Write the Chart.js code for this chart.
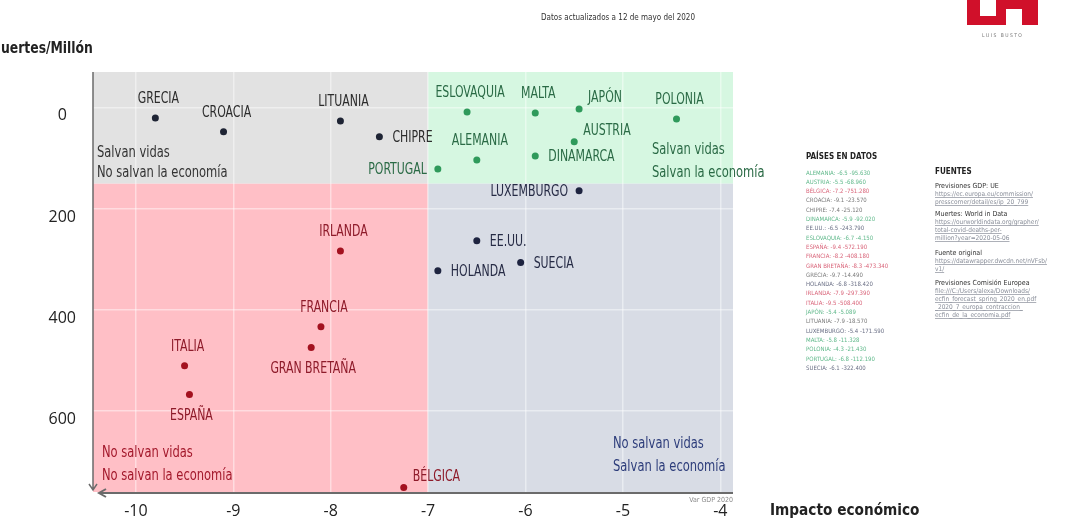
<!DOCTYPE html>
<html>
<head>
<meta charset="utf-8">
<script src="https://cdn.jsdelivr.net/npm/chart.js@4/dist/chart.umd.min.js"></script>
<style>
html, body { margin: 0; padding: 0; background: #fff; }
#wrap { width: 1072px; height: 528px; }
</style>
</head>
<body>
<div id="wrap"><canvas id="mycanvas" width="1072" height="528"></canvas></div>
<script>
// datos
var paises = ['GRECIA', 'CROACIA', 'LITUANIA', 'CHIPRE', 'PORTUGAL', 'ESLOVAQUIA', 'MALTA', 'JAPÓN',
    'POLONIA', 'AUSTRIA', 'ALEMANIA', 'DINAMARCA', 'LUXEMBURGO', 'EE.UU.', 'HOLANDA', 'SUECIA',
    'IRLANDA', 'FRANCIA', 'GRAN BRETAÑA', 'ITALIA', 'ESPAÑA', 'BÉLGICA'];
var pib = [-9.8, -9.1, -7.9, -7.5, -6.9, -6.6, -5.9, -5.45,
    -4.45, -5.5, -6.5, -5.9, -5.45, -6.5, -6.9, -6.05,
    -7.9, -8.1, -8.2, -9.5, -9.45, -7.25];
var muertes = [20, 47, 26, 57, 121, 8, 10, 2,
    22, 67, 103, 95, 164, 263, 322, 306,
    283, 433, 474, 510, 567, 751];
var grupo = ['gris', 'gris', 'gris', 'gris', 'verde', 'verde', 'verde', 'verde',
    'verde', 'verde', 'verde', 'verde', 'azul', 'azul', 'azul', 'azul',
    'rojo', 'rojo', 'rojo', 'rojo', 'rojo', 'rojo'];
var xTicks = [-10, -9, -8, -7, -6, -5, -4];
var yTicks = [0, 200, 400, 600];

// donde va cada etiqueta respecto al punto
var posicion = ['arriba', 'arriba', 'arriba', 'derecha', 'izquierda', 'arriba', 'arriba', 'arribaDer',
    'arriba', 'arribaDer', 'arriba', 'derecha', 'izquierda', 'derecha', 'derecha', 'derecha',
    'arriba', 'arriba', 'abajo', 'arriba', 'abajo', 'arribaDer'];

// tabla "PAISES EN DATOS"
var tablaPaises = ['ALEMANIA: -6.5 -95.630', 'AUSTRIA: -5.5 -68.960', 'BÉLGICA: -7.2 -751.280',
    'CROACIA: -9.1 -23.570', 'CHIPRE: -7.4 -25.120', 'DINAMARCA: -5.9 -92.020',
    'EE.UU.: -6.5 -243.790', 'ESLOVAQUIA: -6.7 -4.150', 'ESPAÑA: -9.4 -572.190',
    'FRANCIA: -8.2 -408.180', 'GRAN BRETAÑA: -8.3 -473.340', 'GRECIA: -9.7 -14.490',
    'HOLANDA: -6.8 -318.420', 'IRLANDA: -7.9 -297.390', 'ITALIA: -9.5 -508.400',
    'JAPÓN: -5.4 -5.089', 'LITUANIA: -7.9 -18.570', 'LUXEMBURGO: -5.4 -171.590',
    'MALTA: -5.8 -11.328', 'POLONIA: -4.3 -21.430', 'PORTUGAL: -6.8 -112.190',
    'SUECIA: -6.1 -322.400'];
var tablaGrupo = ['verde', 'verde', 'rojo', 'gris', 'gris', 'verde', 'azul', 'verde', 'rojo', 'rojo',
    'rojo', 'gris', 'azul', 'rojo', 'rojo', 'verde', 'gris', 'azul', 'verde', 'verde', 'verde', 'azul'];

var fuentes = [
    ['t', 'FUENTES'],
    ['s', 'Previsiones GDP: UE'],
    ['l', 'https://ec.europa.eu/commission/'],
    ['l', 'presscorner/detail/es/ip_20_799'],
    ['s', 'Muertes: World in Data'],
    ['l', 'https://ourworldindata.org/grapher/'],
    ['l', 'total-covid-deaths-per-'],
    ['l', 'million?year=2020-05-06'],
    ['s', 'Fuente original'],
    ['l', 'https://datawrapper.dwcdn.net/nVFsb/'],
    ['l', 'v1/'],
    ['s', 'Previsiones Comisión Europea'],
    ['l', 'file:///C:/Users/alexa/Downloads/'],
    ['l', 'ecfin_forecast_spring_2020_en.pdf'],
    ['l', '_2020_7_europa_contraccion_'],
    ['l', 'ecfin_de_la_economia.pdf']
];
var fuentesY = [172, 186, 194, 202, 214, 222, 230, 238, 253, 261, 269, 283, 291, 299, 307, 315];

var NARROW = "'Liberation Sans Narrow', 'DejaVu Sans Condensed', 'Roboto', sans-serif";
var colorPunto = {gris: '#1e2434', verde: '#2f9a5b', azul: '#1e2440', rojo: '#a3111f'};
var colorTexto = {gris: '#2b2b2b', verde: '#2a6a45', azul: '#262b45', rojo: '#8e1b2a'};
var colorTabla = {gris: '#7a7a7a', verde: '#5fb88a', azul: '#6a6f85', rojo: '#d96479'};

// texto estrecho (la fuente original es condensada)
function texto(ctx, s, x, y, f) {
    ctx.save();
    ctx.translate(x, y);
    ctx.scale(f, 1);
    ctx.fillText(s, 0, 0);
    ctx.restore();
}

var fondos = {
    id: 'fondos',
    beforeDraw: function (chart) {
        var ctx = chart.ctx, a = chart.chartArea;
        var xs = chart.scales.x, ys = chart.scales.y;
        var mx = xs.getPixelForValue(-7), my = ys.getPixelForValue(150);
        ctx.save();
        ctx.fillStyle = '#e2e2e2';
        ctx.fillRect(a.left, a.top, mx - a.left, my - a.top);
        ctx.fillStyle = '#d6f7e1';
        ctx.fillRect(mx, a.top, a.right - mx, my - a.top);
        ctx.fillStyle = '#ffbfc6';
        ctx.fillRect(a.left, my, mx - a.left, a.bottom - my);
        ctx.fillStyle = '#d8dce5';
        ctx.fillRect(mx, my, a.right - mx, a.bottom - my);
        ctx.restore();
    },
    beforeDatasetsDraw: function (chart) {
        var ctx = chart.ctx, a = chart.chartArea;
        ctx.save();
        ctx.strokeStyle = '#6b6b6b';
        // eje y con flecha abajo
        ctx.lineWidth = 1.5;
        ctx.beginPath();
        ctx.moveTo(a.left, a.top);
        ctx.lineTo(a.left, a.bottom - 2);
        ctx.moveTo(a.left - 4, a.bottom - 8);
        ctx.lineTo(a.left, a.bottom - 2);
        ctx.lineTo(a.left + 4, a.bottom - 8);
        ctx.stroke();
        // eje x con flecha a la izquierda
        ctx.lineWidth = 2;
        ctx.beginPath();
        ctx.moveTo(a.left + 6, a.bottom + 1);
        ctx.lineTo(a.right, a.bottom + 1);
        ctx.moveTo(a.left + 13, a.bottom - 3);
        ctx.lineTo(a.left + 6, a.bottom + 1);
        ctx.lineTo(a.left + 13, a.bottom + 5);
        ctx.stroke();
        ctx.restore();
    }
};

var etiquetas = {
    id: 'etiquetas',
    afterDatasetsDraw: function (chart) {
        var ctx = chart.ctx;
        var meta = chart.getDatasetMeta(0);
        var f = 0.76;
        ctx.save();
        ctx.font = '16px ' + NARROW;
        ctx.textBaseline = 'middle';
        meta.data.forEach(function (pt, i) {
            var x = pt.x, y = pt.y, p = posicion[i];
            ctx.fillStyle = colorTexto[grupo[i]];
            if (p == 'arriba') {
                ctx.textAlign = 'center';
                texto(ctx, paises[i], x + 3, y - 19, f);
            } else if (p == 'abajo') {
                ctx.textAlign = 'center';
                texto(ctx, paises[i], x + 2, y + 21, f);
            } else if (p == 'derecha') {
                ctx.textAlign = 'left';
                texto(ctx, paises[i], x + 13, y + 1, f);
            } else if (p == 'izquierda') {
                ctx.textAlign = 'right';
                texto(ctx, paises[i], x - 11, y + 1, f);
            } else {
                ctx.textAlign = 'left';
                texto(ctx, paises[i], x + 9, y - 11, f);
            }
        });

        // textos de cuadrantes
        var g = 0.8;
        ctx.font = '16px ' + NARROW;
        ctx.textAlign = 'left';
        ctx.fillStyle = '#333333';
        texto(ctx, 'Salvan vidas', 97, 153, g);
        texto(ctx, 'No salvan la economía', 97, 173, g);
        ctx.fillStyle = '#2a6a45';
        texto(ctx, 'Salvan vidas', 652, 150, g);
        texto(ctx, 'Salvan la economía', 652, 173, g);
        ctx.fillStyle = '#a3182b';
        texto(ctx, 'No salvan vidas', 102, 453, g);
        texto(ctx, 'No salvan la economía', 102, 476, g);
        ctx.fillStyle = '#2c3c7a';
        texto(ctx, 'No salvan vidas', 613, 444, g);
        texto(ctx, 'Salvan la economía', 613, 467, g);
        ctx.restore();
    }
};

var extras = {
    id: 'extras',
    afterDraw: function (chart) {
        var ctx = chart.ctx;
        ctx.save();
        ctx.textBaseline = 'middle';
        ctx.fillStyle = '#222';
        ctx.font = 'bold 16px ' + NARROW;
        ctx.textAlign = 'left';
        texto(ctx, 'uertes/Millón', 1, 49, 0.86);
        texto(ctx, 'Impacto económico', 770, 511, 0.95);

        ctx.font = '8px ' + NARROW;
        ctx.fillStyle = '#333';
        ctx.textAlign = 'right';
        ctx.fillText('Datos actualizados a 12 de mayo del 2020', 695, 18);
        ctx.font = '7px ' + NARROW;
        ctx.fillStyle = '#8a8a8a';
        ctx.fillText('Var GDP 2020', 733, 500);

        // logo
        ctx.fillStyle = '#d0102a';
        ctx.fillRect(967, 0, 71, 25);
        ctx.fillStyle = '#fff';
        ctx.fillRect(980, 0, 16, 16);
        ctx.fillRect(1006, 9, 16, 16);
        ctx.font = '5px ' + NARROW;
        ctx.fillStyle = '#777';
        ctx.textAlign = 'center';
        ctx.fillText('L U I S   B U S T O', 1002, 36);

        // tabla de paises
        ctx.textAlign = 'left';
        ctx.font = 'bold 8px ' + NARROW;
        ctx.fillStyle = '#222';
        ctx.fillText('PAÍSES EN DATOS', 806, 157);
        ctx.font = '6px ' + NARROW;
        tablaPaises.forEach(function (t, i) {
            ctx.fillStyle = colorTabla[tablaGrupo[i]];
            ctx.fillText(t, 806, 173 + i * 9.3);
        });

        // fuentes
        fuentes.forEach(function (f, i) {
            var y = fuentesY[i];
            if (f[0] == 't') {
                ctx.font = 'bold 8px ' + NARROW;
                ctx.fillStyle = '#222';
            } else if (f[0] == 's') {
                ctx.font = '7px ' + NARROW;
                ctx.fillStyle = '#333';
            } else {
                ctx.font = '6.5px ' + NARROW;
                ctx.fillStyle = '#8a8f9a';
            }
            ctx.fillText(f[1], 935, y);
            if (f[0] == 'l') {
                var w = ctx.measureText(f[1]).width;
                ctx.fillRect(935, y + 3, w, 0.7);
            }
        });
        ctx.restore();
    }
};

var ctx = document.getElementById('mycanvas').getContext('2d');
var puntos = pib.map(function (v, i) { return {x: v, y: muertes[i]}; });

var myChart = new Chart(ctx, {
    type: 'scatter',
    data: {
        datasets: [{
            data: puntos,
            pointRadius: 3.5,
            pointHoverRadius: 3.5,
            pointBorderWidth: 0,
            pointBackgroundColor: grupo.map(function (g) { return colorPunto[g]; })
        }]
    },
    options: {
        responsive: false,
        animation: false,
        events: [],
        layout: {padding: {left: 0, top: 72, right: 339, bottom: 0}},
        plugins: {
            legend: {display: false},
            tooltip: {enabled: false}
        },
        scales: {
            x: {
                type: 'linear',
                min: -10.44,
                max: -3.87,
                afterFit: function (s) { s.height = 36; },
                afterBuildTicks: function (s) { s.ticks = xTicks.map(function (v) { return {value: v}; }); },
                grid: {color: 'rgba(255,255,255,0.45)', lineWidth: 1.5, drawTicks: false},
                border: {display: false},
                ticks: {color: '#222', padding: 10, font: {family: "'Open Sans', sans-serif", size: 16}}
            },
            y: {
                type: 'linear',
                reverse: true,
                min: -71,
                max: 760,
                afterFit: function (s) { s.width = 93; },
                afterBuildTicks: function (s) { s.ticks = yTicks.map(function (v) { return {value: v}; }); },
                grid: {color: 'rgba(255,255,255,0.45)', lineWidth: 1.5, drawTicks: false},
                border: {display: false},
                ticks: {color: '#222', padding: 17, crossAlign: 'center', labelOffset: 8,
                    font: {family: "'Open Sans', sans-serif", size: 16}}
            }
        }
    },
    plugins: [fondos, etiquetas, extras]
});
</script>
</body>
</html>
